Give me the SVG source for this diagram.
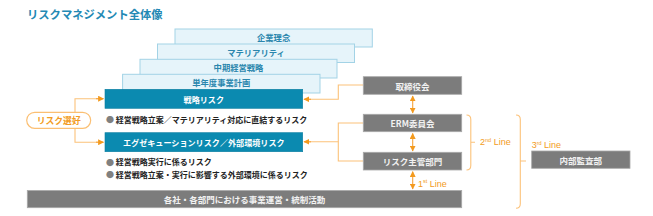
<svg xmlns="http://www.w3.org/2000/svg" width="653" height="216" viewBox="0 0 653 216">
<defs>
<style>
text{font-family:"Noto Sans CJK JP","Noto Sans",sans-serif;dominant-baseline:central}
.title{font-size:11.3px;font-weight:700;fill:#2389b4}
.row rect{fill:#e6f4fa;stroke:#a3d3e6;stroke-width:1}
.row text{font-size:8.3px;font-weight:700;fill:#2a86ad;text-anchor:middle}
.teal rect{fill:#0b8ab0;stroke:#0a7ea1;stroke-width:0.6}
.teal text{font-size:8.1px;font-weight:700;fill:#fff;text-anchor:middle}
.gray rect{fill:#7c7c7c;stroke:#a8a8a8;stroke-width:0.8}
.gray text{font-size:8.5px;font-weight:700;fill:#f2f2f2;text-anchor:middle}
.bul{font-size:8px;font-weight:700;fill:#222}
.dot{fill:#808080}
.con{fill:none;stroke:#fcc27a;stroke-width:1.1}
.arr{fill:none;stroke:#f6a33a;stroke-width:1.1}
.lbl{font-family:"Liberation Sans",Arial,sans-serif;font-size:9px;fill:#f29b22}
.pill rect{fill:#fff;stroke:#fbbf73;stroke-width:1.2}
.pill text{font-size:8.8px;font-weight:700;fill:#f29b22;text-anchor:middle}
</style>
<marker id="ah" viewBox="0 0 10 10" refX="9" refY="5" markerWidth="6" markerHeight="6" markerUnits="userSpaceOnUse" orient="auto-start-reverse">
<path d="M0 0 L10 5 L0 10 Z" fill="#f39a1e"/>
</marker>
</defs>
<rect width="653" height="216" fill="#fff"/>
<text class="title" x="27" y="13.5">リスクマネジメント全体像</text>

<g id="row-kigyo" class="row"><rect x="175" y="29" width="197.3" height="18"/><text x="273.6" y="36.7">企業理念</text></g>
<g id="row-materiality" class="row"><rect x="157.5" y="44" width="197" height="18.5"/><text x="256" y="52.3">マテリアリティ</text></g>
<g id="row-chuki" class="row"><rect x="140" y="59.3" width="197" height="18.7"/><text x="238.5" y="66.7">中期経営戦略</text></g>
<g id="row-tannendo" class="row"><rect x="122.6" y="74.3" width="197.4" height="18.7"/><text x="221.3" y="81.7">単年度事業計画</text></g>

<g id="senryaku" class="teal"><rect x="105" y="89.3" width="197.7" height="19"/><text x="203.8" y="99">戦略リスク</text></g>
<g id="exec" class="teal"><rect x="105" y="132.7" width="197.7" height="19"/><text x="203.8" y="142.2">エグゼキューションリスク／外部環境リスク</text></g>

<g id="bullets">
<text class="bul" x="106" y="119.3"><tspan class="dot">●</tspan> 経営戦略立案／マテリアリティ対応に直結するリスク</text>
<text class="bul" x="106" y="161.7"><tspan class="dot">●</tspan> 経営戦略実行に係るリスク</text>
<text class="bul" x="106" y="174.3"><tspan class="dot">●</tspan> 経営戦略立案・実行に影響する外部環境に係るリスク</text>
</g>

<g id="connectors">
<path class="con" d="M75 120 V98.7 H103"/>
<path class="con" d="M75 120 V142.2 H103"/>
<path class="arr" d="M96 98.7 H103.5" marker-end="url(#ah)"/>
<path class="arr" d="M96 142.2 H103.5" marker-end="url(#ah)"/>
<path class="con" d="M363 85 H338.3 V99.3 H305"/>
<path class="arr" d="M311 99.3 H304" marker-end="url(#ah)"/>
<path class="con" d="M363 123 H338.3 V161 H363"/>
<path class="con" d="M338.3 141.8 H305"/>
<path class="arr" d="M311 141.8 H304" marker-end="url(#ah)"/>
<path class="arr" d="M412.7 96 V113" marker-start="url(#ah)" marker-end="url(#ah)"/>
<path class="arr" d="M412.7 133.5 V151" marker-start="url(#ah)" marker-end="url(#ah)"/>
<path class="arr" d="M412.7 171.7 V189" marker-start="url(#ah)" marker-end="url(#ah)"/>
<path class="con" d="M466.5 115 Q470.8 115 470.8 119.5 V165.5 Q470.8 170 466.5 170 M470.8 142.3 H475"/>
<path class="con" d="M516 115 Q520.3 115 520.3 119.5 V203.8 Q520.3 208.3 516 208.3 M520.3 161 H526"/>
</g>

<g id="pill" class="pill"><rect x="26.7" y="112.3" width="64" height="16" rx="8"/><text x="58.7" y="120.5">リスク選好</text></g>

<g id="torishimariyaku" class="gray"><rect x="363.3" y="76.7" width="98.4" height="17.6"/><text x="412.5" y="85.5">取締役会</text></g>
<g id="erm" class="gray"><rect x="363.3" y="114.3" width="98.4" height="17.4"/><text x="412.5" y="123">ERM委員会</text></g>
<g id="risk-shukan" class="gray"><rect x="363.3" y="152.3" width="98.4" height="17.7"/><text x="412.5" y="161.2">リスク主管部門</text></g>
<g id="naibu-kansa" class="gray"><rect x="531.7" y="151" width="98.3" height="17.3"/><text x="580.8" y="159.7">内部監査部</text></g>
<g id="jigyo" class="gray"><rect x="27.3" y="190.5" width="434.4" height="17.2"/><text x="244.5" y="199.1">各社・各部門における事業運営・統制活動</text></g>

<g id="labels">
<text class="lbl" x="418" y="183.5">1<tspan font-size="5.5" dy="-2.5">st</tspan><tspan dy="2.5"> Line</tspan></text>
<text class="lbl" x="480" y="142.3">2<tspan font-size="5.5" dy="-2.5">nd</tspan><tspan dy="2.5"> Line</tspan></text>
<text class="lbl" x="531.7" y="145">3<tspan font-size="5.5" dy="-2.5">rd</tspan><tspan dy="2.5"> Line</tspan></text>
</g>
</svg>
